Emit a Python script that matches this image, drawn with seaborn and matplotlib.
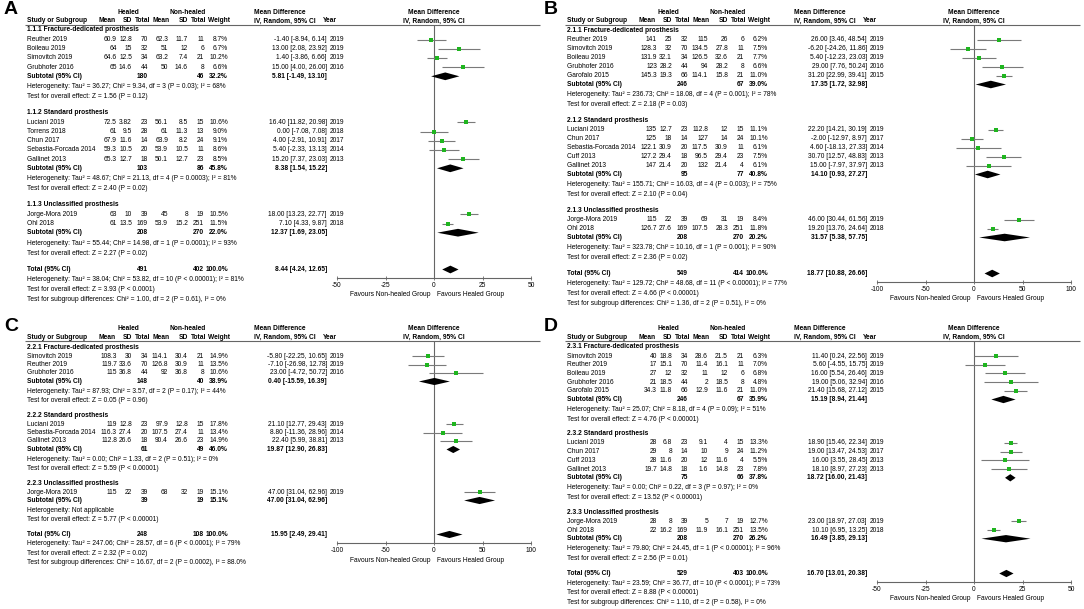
import numpy as np
import pandas as pd
import seaborn as sns
import matplotlib
matplotlib.use("Agg")
import matplotlib.pyplot as plt

W, H = 1084, 609

COLS = ["study", "grp", "h_mean", "h_sd", "h_n", "n_mean", "n_sd", "n_n",
        "weight", "md", "lo", "hi", "year"]

# ---------------- panel A ----------------
A_GROUPS = ["1.1.1 Fracture-dedicated prosthesis", "1.1.2 Standard prosthesis",
            "1.1.3 Unclassified prosthesis"]
A_STUDIES = [
    ("Reuther 2019", 0, 60.9, 12.8, 70, 62.3, 11.7, 11, 8.7, -1.40, -8.94, 6.14, 2019),
    ("Boileau 2019", 0, 64, 15, 32, 51, 12, 6, 6.7, 13.00, 2.08, 23.92, 2019),
    ("Simovitch 2019", 0, 64.6, 12.5, 34, 63.2, 7.4, 21, 10.2, 1.40, -3.86, 6.66, 2019),
    ("Grubhofer 2016", 0, 65, 14.6, 44, 50, 14.6, 8, 6.6, 15.00, 4.00, 26.00, 2016),
    ("Luciani 2019", 1, 72.5, 3.82, 23, 56.1, 8.5, 15, 10.6, 16.40, 11.82, 20.98, 2019),
    ("Torrens 2018", 1, 61, 9.5, 28, 61, 11.3, 13, 9.0, 0.00, -7.08, 7.08, 2018),
    ("Chun 2017", 1, 67.9, 11.6, 14, 63.9, 8.2, 24, 9.1, 4.00, -2.91, 10.91, 2017),
    ("Sebastia-Forcada 2014", 1, 59.3, 10.5, 20, 53.9, 10.5, 11, 8.6, 5.40, -2.33, 13.13, 2014),
    ("Gallinet 2013", 1, 65.3, 12.7, 18, 50.1, 12.7, 23, 8.5, 15.20, 7.37, 23.03, 2013),
    ("Jorge-Mora 2019", 2, 63, 10, 39, 45, 8, 19, 10.5, 18.00, 13.23, 22.77, 2019),
    ("Ohl 2018", 2, 61, 13.5, 169, 53.9, 15.2, 251, 11.5, 7.10, 4.33, 9.87, 2018),
]
A_SUBTOTALS = [(180, 46, 32.2, 5.81, -1.49, 13.10),
               (103, 86, 45.8, 8.38, 1.54, 15.22),
               (208, 270, 22.0, 12.37, 1.69, 23.05)]
A_HET = ["Heterogeneity: Tau² = 36.27; Chi² = 9.34, df = 3 (P = 0.03); I² = 68%",
         "Heterogeneity: Tau² = 48.67; Chi² = 21.13, df = 4 (P = 0.0003); I² = 81%",
         "Heterogeneity: Tau² = 55.44; Chi² = 14.98, df = 1 (P = 0.0001); I² = 93%"]
A_Z = ["Test for overall effect: Z = 1.56 (P = 0.12)",
       "Test for overall effect: Z = 2.40 (P = 0.02)",
       "Test for overall effect: Z = 2.27 (P = 0.02)"]
A_TOTAL = (491, 402, 100.0, 8.44, 4.24, 12.65)
A_FOOT = ["Heterogeneity: Tau² = 38.04; Chi² = 53.82, df = 10 (P < 0.00001); I² = 81%",
          "Test for overall effect: Z = 3.93 (P < 0.0001)",
          "Test for subgroup differences: Chi² = 1.00, df = 2 (P = 0.61), I² = 0%"]
A_TICKS = [-50, -25, 0, 25, 50]

# ---------------- panel B ----------------
B_GROUPS = ["2.1.1 Fracture-dedicated prosthesis", "2.1.2 Standard prosthesis",
            "2.1.3 Unclassified prosthesis"]
B_STUDIES = [
    ("Reuther 2019", 0, 141, 25, 32, 115, 26, 6, 6.2, 26.00, 3.46, 48.54, 2019),
    ("Simovitch 2019", 0, 128.3, 32, 70, 134.5, 27.8, 11, 7.5, -6.20, -24.26, 11.86, 2019),
    ("Boileau 2019", 0, 131.9, 32.1, 34, 126.5, 32.6, 21, 7.7, 5.40, -12.23, 23.03, 2019),
    ("Grubhofer 2016", 0, 123, 28.2, 44, 94, 28.2, 8, 6.6, 29.00, 7.76, 50.24, 2016),
    ("Garofalo 2015", 0, 145.3, 19.3, 66, 114.1, 15.8, 21, 11.0, 31.20, 22.99, 39.41, 2015),
    ("Luciani 2019", 1, 135, 12.7, 23, 112.8, 12, 15, 11.1, 22.20, 14.21, 30.19, 2019),
    ("Chun 2017", 1, 125, 18, 14, 127, 14, 24, 10.1, -2.00, -12.97, 8.97, 2017),
    ("Sebastia-Forcada 2014", 1, 122.1, 30.9, 20, 117.5, 30.9, 11, 6.1, 4.60, -18.13, 27.33, 2014),
    ("Cuff 2013", 1, 127.2, 29.4, 18, 96.5, 29.4, 23, 7.5, 30.70, 12.57, 48.83, 2013),
    ("Gallinet 2013", 1, 147, 21.4, 20, 132, 21.4, 4, 6.1, 15.00, -7.97, 37.97, 2013),
    ("Jorge-Mora 2019", 2, 115, 22, 39, 69, 31, 19, 8.4, 46.00, 30.44, 61.56, 2019),
    ("Ohl 2018", 2, 126.7, 27.6, 169, 107.5, 28.3, 251, 11.8, 19.20, 13.76, 24.64, 2018),
]
B_SUBTOTALS = [(246, 67, 39.0, 17.35, 1.72, 32.98),
               (95, 77, 40.8, 14.10, 0.93, 27.27),
               (208, 270, 20.2, 31.57, 5.38, 57.75)]
B_HET = ["Heterogeneity: Tau² = 236.73; Chi² = 18.08, df = 4 (P = 0.001); I² = 78%",
         "Heterogeneity: Tau² = 155.71; Chi² = 16.03, df = 4 (P = 0.003); I² = 75%",
         "Heterogeneity: Tau² = 323.78; Chi² = 10.16, df = 1 (P = 0.001); I² = 90%"]
B_Z = ["Test for overall effect: Z = 2.18 (P = 0.03)",
       "Test for overall effect: Z = 2.10 (P = 0.04)",
       "Test for overall effect: Z = 2.36 (P = 0.02)"]
B_TOTAL = (549, 414, 100.0, 18.77, 10.88, 26.66)
B_FOOT = ["Heterogeneity: Tau² = 129.72; Chi² = 48.68, df = 11 (P < 0.00001); I² = 77%",
          "Test for overall effect: Z = 4.66 (P < 0.00001)",
          "Test for subgroup differences: Chi² = 1.36, df = 2 (P = 0.51), I² = 0%"]
B_TICKS = [-100, -50, 0, 50, 100]

# ---------------- panel C ----------------
C_GROUPS = ["2.2.1 Fracture-dedicated prosthesis", "2.2.2 Standard prosthesis",
            "2.2.3 Unclassified prosthesis"]
C_STUDIES = [
    ("Simovitch 2019", 0, 108.3, 30, 34, 114.1, 30.4, 21, 14.9, -5.80, -22.25, 10.65, 2019),
    ("Reuther 2019", 0, 119.7, 33.6, 70, 126.8, 30.9, 11, 13.5, -7.10, -26.98, 12.78, 2019),
    ("Grubhofer 2016", 0, 115, 36.8, 44, 92, 36.8, 8, 10.6, 23.00, -4.72, 50.72, 2016),
    ("Luciani 2019", 1, 119, 12.8, 23, 97.9, 12.8, 15, 17.8, 21.10, 12.77, 29.43, 2019),
    ("Sebastia-Forcada 2014", 1, 116.3, 27.4, 20, 107.5, 27.4, 11, 13.4, 8.80, -11.36, 28.96, 2014),
    ("Gallinet 2013", 1, 112.8, 26.6, 18, 90.4, 26.6, 23, 14.9, 22.40, 5.99, 38.81, 2013),
    ("Jorge-Mora 2019", 2, 115, 22, 39, 68, 32, 19, 15.1, 47.00, 31.04, 62.96, 2019),
]
C_SUBTOTALS = [(148, 40, 38.9, 0.40, -15.59, 16.39),
               (61, 49, 46.0, 19.87, 12.90, 26.83),
               (39, 19, 15.1, 47.00, 31.04, 62.96)]
C_HET = ["Heterogeneity: Tau² = 87.93; Chi² = 3.57, df = 2 (P = 0.17); I² = 44%",
         "Heterogeneity: Tau² = 0.00; Chi² = 1.33, df = 2 (P = 0.51); I² = 0%",
         "Heterogeneity: Not applicable"]
C_Z = ["Test for overall effect: Z = 0.05 (P = 0.96)",
       "Test for overall effect: Z = 5.59 (P < 0.00001)",
       "Test for overall effect: Z = 5.77 (P < 0.00001)"]
C_TOTAL = (248, 108, 100.0, 15.95, 2.49, 29.41)
C_FOOT = ["Heterogeneity: Tau² = 247.06; Chi² = 28.57, df = 6 (P < 0.0001); I² = 79%",
          "Test for overall effect: Z = 2.32 (P = 0.02)",
          "Test for subgroup differences: Chi² = 16.67, df = 2 (P = 0.0002), I² = 88.0%"]
C_TICKS = [-100, -50, 0, 50, 100]

# ---------------- panel D ----------------
D_GROUPS = ["2.3.1 Fracture-dedicated prosthesis", "2.3.2 Standard prosthesis",
            "2.3.3 Unclassified prosthesis"]
D_STUDIES = [
    ("Simovitch 2019", 0, 40, 18.8, 34, 28.6, 21.5, 21, 6.3, 11.40, 0.24, 22.56, 2019),
    ("Reuther 2019", 0, 17, 15.1, 70, 11.4, 16.1, 11, 7.0, 5.60, -4.55, 15.75, 2019),
    ("Boileau 2019", 0, 27, 12, 32, 11, 12, 6, 6.8, 16.00, 5.54, 26.46, 2019),
    ("Grubhofer 2016", 0, 21, 18.5, 44, 2, 18.5, 8, 4.8, 19.00, 5.06, 32.94, 2016),
    ("Garofalo 2015", 0, 34.3, 11.8, 66, 12.9, 11.6, 21, 11.0, 21.40, 15.68, 27.12, 2015),
    ("Luciani 2019", 1, 28, 6.8, 23, 9.1, 4, 15, 13.3, 18.90, 15.46, 22.34, 2019),
    ("Chun 2017", 1, 29, 8, 14, 10, 9, 24, 11.2, 19.00, 13.47, 24.53, 2017),
    ("Cuff 2013", 1, 28, 11.6, 20, 12, 11.6, 4, 5.5, 16.00, 3.55, 28.45, 2013),
    ("Gallinet 2013", 1, 19.7, 14.8, 18, 1.6, 14.8, 23, 7.8, 18.10, 8.97, 27.23, 2013),
    ("Jorge-Mora 2019", 2, 28, 8, 39, 5, 7, 19, 12.7, 23.00, 18.97, 27.03, 2019),
    ("Ohl 2018", 2, 22, 16.2, 169, 11.9, 16.1, 251, 13.5, 10.10, 6.95, 13.25, 2018),
]
D_SUBTOTALS = [(246, 67, 35.9, 15.19, 8.94, 21.44),
               (75, 66, 37.8, 18.72, 16.00, 21.43),
               (208, 270, 26.2, 16.49, 3.85, 29.13)]
D_HET = ["Heterogeneity: Tau² = 25.07; Chi² = 8.18, df = 4 (P = 0.09); I² = 51%",
         "Heterogeneity: Tau² = 0.00; Chi² = 0.22, df = 3 (P = 0.97); I² = 0%",
         "Heterogeneity: Tau² = 79.80; Chi² = 24.45, df = 1 (P < 0.00001); I² = 96%"]
D_Z = ["Test for overall effect: Z = 4.76 (P < 0.00001)",
       "Test for overall effect: Z = 13.52 (P < 0.00001)",
       "Test for overall effect: Z = 2.56 (P = 0.01)"]
D_TOTAL = (529, 403, 100.0, 16.70, 13.01, 20.38)
D_FOOT = ["Heterogeneity: Tau² = 23.59; Chi² = 36.77, df = 10 (P < 0.0001); I² = 73%",
          "Test for overall effect: Z = 8.88 (P < 0.00001)",
          "Test for subgroup differences: Chi² = 1.10, df = 2 (P = 0.58), I² = 0%"]
D_TICKS = [-50, -25, 0, 25, 50]

# layout (pixels)
FS = 4.75
GREEN = "#1fb51f"
CI_GRAY = "#7a7a7a"
LINE_GRAY = "#666666"
RIGHTS = [117, 132, 148, 168, 188, 204, 228]        # right edges of numeric columns
HEAD_RIGHTS = [116, 132, 150, 170, 188, 206, 230]   # right edges of column headers
CI_RIGHT, YEAR_X, STUDY_X = 327, 330, 27
FX0, FX1 = 337, 531                                  # forest plot horizontal extent


def num(v):
    return f"{v:g}"


def ci(md, lo, hi):
    return f"{md:.2f} [{lo:.2f}, {hi:.2f}]"


def draw_panel(fig, bg, letter, x0, top, p, groups, studies, subs, het, zt, total, foot, ticks):
    df = pd.DataFrame(studies, columns=COLS)

    def t(x, y, s, ha="left", bold=False, size=FS):
        bg.text(x0 + x, y, s, ha=ha, va="center", fontsize=size,
                fontweight="bold" if bold else "normal", color="black")

    # row positions
    y = top + 15
    study_y, sub_y, title_y = [], [], []
    for g in range(len(groups)):
        k = int((df["grp"] == g).sum())
        title_y.append(y - 1.05 * p)
        study_y.extend(y + p * np.arange(k))
        sub_y.append(y + p * k)
        y = sub_y[-1] + 5.0 * p
    df["y"] = study_y
    total_y = sub_y[-1] + 4.0 * p
    axis_y = total_y + 8.5

    # headers
    t(4, top - 14.5, letter, bold=True, size=14)
    t(128, top - 12.5, "Healed", ha="center", bold=True)
    t(188, top - 12.5, "Non-healed", ha="center", bold=True)
    t(254, top - 12.5, "Mean Difference", bold=True)
    t(434, top - 12.5, "Mean Difference", ha="center", bold=True)
    t(STUDY_X, top - 3.5, "Study or Subgroup", bold=True)
    for x, s in zip(HEAD_RIGHTS, ["Mean", "SD", "Total", "Mean", "SD", "Total", "Weight"]):
        t(x, top - 3.5, s, ha="right", bold=True)
    t(254, top - 3.5, "IV, Random, 95% CI", bold=True)
    t(323, top - 3.5, "Year", bold=True)
    t(434, top - 3.5, "IV, Random, 95% CI", ha="center", bold=True)
    bg.hlines(top, x0 + 25, x0 + 540, color=LINE_GRAY, lw=0.8)

    # table body
    for g, name in enumerate(groups):
        t(STUDY_X, title_y[g], name, bold=True)
    for _, r in df.iterrows():
        vals = [r.h_mean, r.h_sd, r.h_n, r.n_mean, r.n_sd, r.n_n]
        t(STUDY_X, r.y, r.study)
        for x, v in zip(RIGHTS, vals):
            t(x, r.y, num(v), ha="right")
        t(RIGHTS[-1], r.y, f"{r.weight:.1f}%", ha="right")
        t(CI_RIGHT, r.y, ci(r.md, r.lo, r.hi), ha="right")
        t(YEAR_X, r.y, str(int(r.year)))
    for g, (hn, nn, w, md, lo, hi) in enumerate(subs):
        yy = sub_y[g]
        t(STUDY_X, yy, "Subtotal (95% CI)", bold=True)
        t(RIGHTS[2], yy, str(hn), ha="right", bold=True)
        t(RIGHTS[5], yy, str(nn), ha="right", bold=True)
        t(RIGHTS[6], yy, f"{w:.1f}%", ha="right", bold=True)
        t(CI_RIGHT, yy, ci(md, lo, hi), ha="right", bold=True)
        t(STUDY_X, yy + 1.15 * p, het[g])
        t(STUDY_X, yy + 2.25 * p, zt[g])
    hn, nn, w, md, lo, hi = total
    t(STUDY_X, total_y, "Total (95% CI)", bold=True)
    t(RIGHTS[2], total_y, str(hn), ha="right", bold=True)
    t(RIGHTS[5], total_y, str(nn), ha="right", bold=True)
    t(RIGHTS[6], total_y, f"{w:.1f}%", ha="right", bold=True)
    t(CI_RIGHT, total_y, ci(md, lo, hi), ha="right", bold=True)
    for i, s in enumerate(foot):
        t(STUDY_X, total_y + (i + 1) * 1.1 * p, s)

    # forest plot
    ax = fig.add_axes([(x0 + FX0) / W, 1 - axis_y / H, (FX1 - FX0) / W, (axis_y - top) / H])
    ax.patch.set_alpha(0)
    ax.set_xlim(ticks[0], ticks[-1])
    ax.set_ylim(axis_y, top)
    ax.axvline(0, color=LINE_GRAY, lw=0.8, zorder=1)
    ax.hlines(df["y"], df["lo"], df["hi"], color=CI_GRAY, lw=0.8, zorder=2)
    sns.scatterplot(data=df, x="md", y="y", marker="s", s=7, color=GREEN,
                    linewidth=0, ax=ax, legend=False, zorder=3)
    h = 0.42 * p
    diamonds = [(sub_y[g],) + tuple(subs[g][3:]) for g in range(len(subs))]
    diamonds.append((total_y, total[3], total[4], total[5]))
    for yy, md, lo, hi in diamonds:
        ax.fill([lo, md, hi, md], [yy, yy - h, yy, yy + h], color="black", lw=0, zorder=4)
    for s in ["left", "right", "top"]:
        ax.spines[s].set_visible(False)
    ax.spines["bottom"].set_color(LINE_GRAY)
    ax.spines["bottom"].set_linewidth(0.8)
    ax.set_xticks(ticks)
    ax.set_xticklabels([str(v) for v in ticks])
    ax.set_yticks([])
    ax.set_xlabel("")
    ax.set_ylabel("")
    ax.tick_params(axis="x", direction="inout", length=3, width=0.6, colors="black",
                   labelsize=FS, pad=1.5, bottom=True)
    ax.tick_params(axis="x", color=LINE_GRAY)
    t(431, axis_y + 17, "Favours Non-healed Group", ha="right")
    t(437, axis_y + 17, "Favours Healed Group")


sns.set_theme(style="white")
plt.rcParams["font.family"] = ["Liberation Sans", "DejaVu Sans"]
plt.rcParams["axes.unicode_minus"] = False

fig = plt.figure(figsize=(W / 100, H / 100), dpi=100)
bg = fig.add_axes([0, 0, 1, 1])
bg.set_xlim(0, W)
bg.set_ylim(H, 0)
bg.axis("off")

draw_panel(fig, bg, "A", 0, 24.5, 9.2, A_GROUPS, A_STUDIES, A_SUBTOTALS, A_HET, A_Z, A_TOTAL, A_FOOT, A_TICKS)
draw_panel(fig, bg, "B", 540, 24.5, 9.0, B_GROUPS, B_STUDIES, B_SUBTOTALS, B_HET, B_Z, B_TOTAL, B_FOOT, B_TICKS)
draw_panel(fig, bg, "C", 0, 341, 8.5, C_GROUPS, C_STUDIES, C_SUBTOTALS, C_HET, C_Z, C_TOTAL, C_FOOT, C_TICKS)
draw_panel(fig, bg, "D", 540, 341, 8.7, D_GROUPS, D_STUDIES, D_SUBTOTALS, D_HET, D_Z, D_TOTAL, D_FOOT, D_TICKS)

fig.savefig("out.png", dpi=100, facecolor="white")
